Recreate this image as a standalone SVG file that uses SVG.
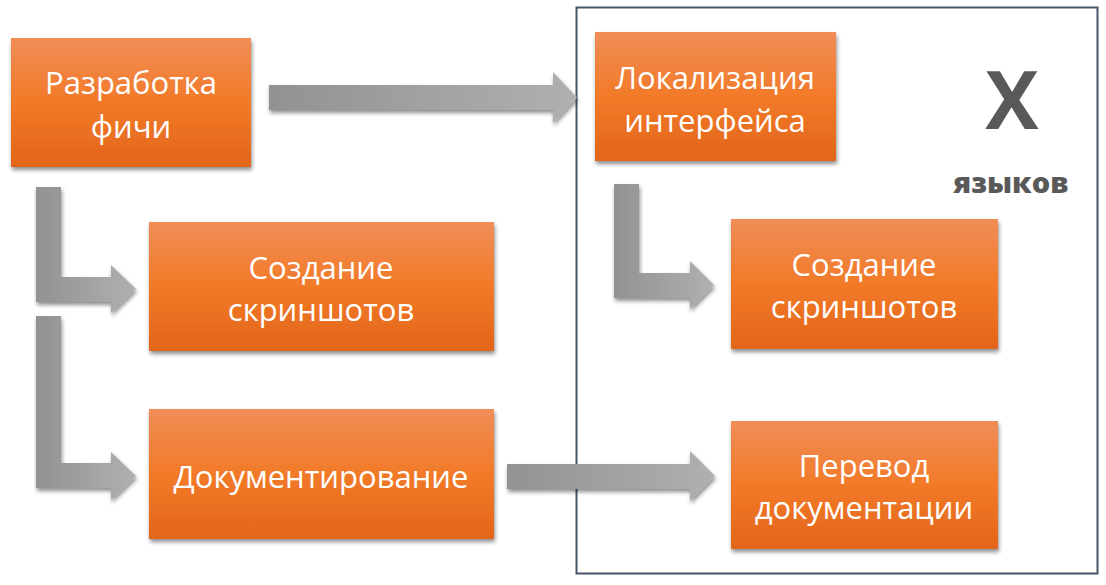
<svg xmlns="http://www.w3.org/2000/svg" width="1106" height="585" viewBox="0 0 1106 585">
<defs>
<linearGradient id="og" x1="0" y1="0" x2="0" y2="1">
<stop offset="0" stop-color="#f08d57"/>
<stop offset="0.5" stop-color="#f27a28"/>
<stop offset="1" stop-color="#e2651a"/>
</linearGradient>
<linearGradient id="al" gradientUnits="objectBoundingBox" x1="0" y1="0" x2="1" y2="0">
<stop offset="0" stop-color="#929292"/>
<stop offset="1" stop-color="#b0b0b0"/>
</linearGradient>
<filter id="sh" x="-10%" y="-10%" width="125%" height="130%">
<feGaussianBlur in="SourceAlpha" stdDeviation="2"/>
<feOffset dx="1" dy="3"/>
<feComponentTransfer><feFuncA type="linear" slope="0.45"/></feComponentTransfer>
<feMerge><feMergeNode/><feMergeNode in="SourceGraphic"/></feMerge>
</filter>
</defs>
<style>
.box{fill:url(#og);filter:url(#sh)}
.t{font-family:"Open Sans","Noto Sans",sans-serif;font-size:31px;fill:#fff;text-anchor:middle;dominant-baseline:central}
.arr{fill:url(#al);filter:url(#sh)}
</style>
<rect x="576.5" y="7.5" width="521" height="566" fill="none" stroke="#44546a" stroke-width="2"/>
<g id="connectors">
<path class="arr" d="M269 85 H553 V72 L577 97.5 L553 123 V110 H269 Z"/>
<path class="arr" d="M36 187 H61 V277 H111 V265 L136 289 L111 313 V302 H36 Z"/>
<path class="arr" d="M36 316 H61 V463 H111 V452 L136 476 L111 500 V488 H36 Z"/>
<path class="arr" d="M614 184 H639 V273 H690 V261 L714 285 L690 309 V298 H614 Z"/>
<path class="arr" d="M507 464 H690 V451 L715 476 L690 501 V489 H507 Z"/>
</g>
<g id="n1"><rect class="box" x="11" y="38" width="240" height="129"/>
<text class="t" x="131" y="82">Разработка</text><text class="t" x="131" y="126">фичи</text></g>
<g id="n2"><rect class="box" x="149" y="222" width="345" height="129"/>
<text class="t" x="321" y="267">Создание</text><text class="t" x="321" y="309">скриншотов</text></g>
<g id="n3"><rect class="box" x="149" y="409" width="345" height="130"/>
<text class="t" x="321" y="476">Документирование</text></g>
<g id="n4"><rect class="box" x="595" y="32" width="241" height="129"/>
<text class="t" x="715" y="77">Локализация</text><text class="t" x="715" y="120">интерфейса</text></g>
<g id="n5"><rect class="box" x="731" y="219" width="267" height="130"/>
<text class="t" x="864" y="264">Создание</text><text class="t" x="864" y="306">скриншотов</text></g>
<g id="n6"><rect class="box" x="731" y="421" width="267" height="128"/>
<text class="t" x="864" y="465">Перевод</text><text class="t" x="864" y="507">документации</text></g>
<g id="label">
<text x="1012" y="129" font-family="'Open Sans','Noto Sans',sans-serif" font-weight="bold" font-size="80" fill="#595959" text-anchor="middle">X</text>
<text x="1011" y="193" font-family="'Open Sans','Noto Sans',sans-serif" font-weight="800" font-size="29" fill="#595959" text-anchor="middle">языков</text>
</g>
</svg>
